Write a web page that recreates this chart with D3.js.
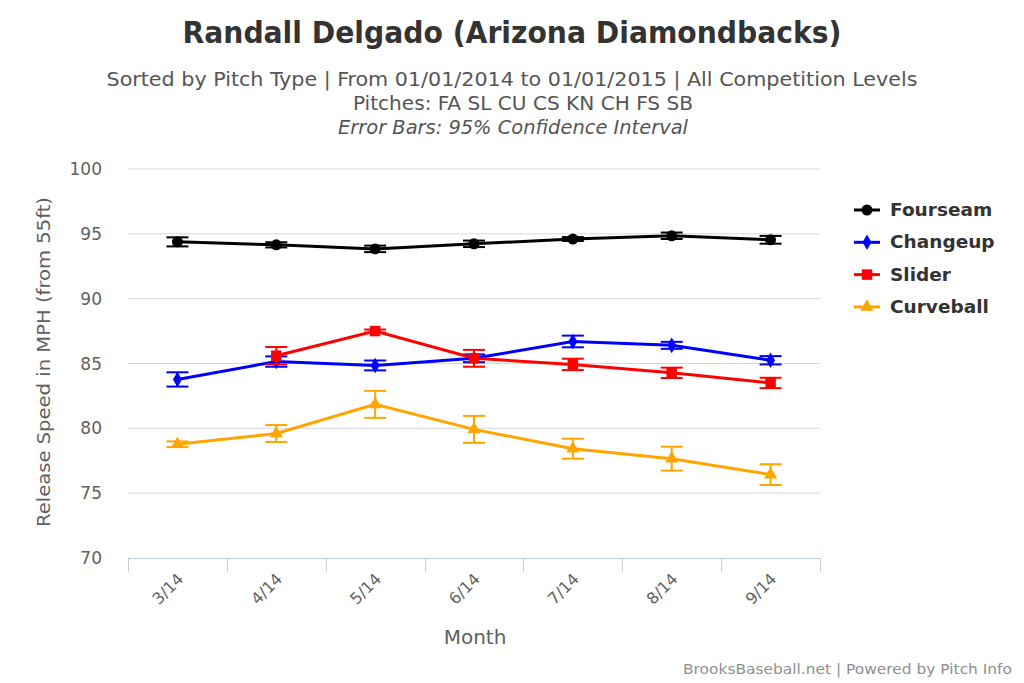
<!DOCTYPE html>
<html><head><meta charset="utf-8">
<script src="https://cdn.jsdelivr.net/npm/d3@7"></script>
<style>body{margin:0;background:#fff}svg{display:block}text{font-family:"DejaVu Sans",sans-serif}.cond{font-family:"DejaVu Sans Condensed","DejaVu Sans",sans-serif}</style>
</head><body><svg id="c" width="1024" height="683"></svg>
<script>
const months = ["3/14","4/14","5/14","6/14","7/14","8/14","9/14"];
const yTicks = [70,75,80,85,90,95,100];
const seriesNames = ["Fourseam","Changeup","Slider","Curveball"];
const seriesColors = ["#000000","#0000ff","#ff0000","#ffa500"];
const seriesSymbols = ["circle","diamond","square","triangle"];
const fourseam = [94.38,94.15,93.84,94.23,94.60,94.85,94.54];
const fourseamErr = [0.35,0.2,0.25,0.25,0.15,0.25,0.3];
const changeup = [83.77,85.15,84.85,85.4,86.7,86.4,85.25];
const changeupErr = [0.55,0.4,0.38,0.3,0.45,0.27,0.32];
const slider = [null,85.6,87.5,85.4,84.93,84.28,83.5];
const sliderErr = [null,0.67,0.12,0.65,0.44,0.4,0.4];
const curveball = [78.77,79.6,81.85,79.92,78.43,77.66,76.43];
const curveballErr = [0.22,0.65,1.04,1.04,0.77,0.92,0.8];
const allVals = [fourseam,changeup,slider,curveball];
const allErr = [fourseamErr,changeupErr,sliderErr,curveballErr];

const svg = d3.select("#c");
const L=128, R=820, T=169, B=558;
const x = d3.scaleBand().domain(months).range([L,R]);
const y = d3.scaleLinear().domain([70,100]).range([B,T]);

// titles
svg.append("text").attr("class","cond").attr("x",512).attr("y",43).attr("text-anchor","middle")
  .attr("font-size",31).attr("font-weight","bold").attr("fill","#333")
  .attr("textLength",659).attr("lengthAdjust","spacingAndGlyphs")
  .text("Randall Delgado (Arizona Diamondbacks)");
const sub = svg.append("g").attr("fill","#555").attr("font-size",20).attr("class","cond");
sub.append("text").attr("class","cond").attr("x",512).attr("y",86).attr("text-anchor","middle").attr("textLength",811).attr("lengthAdjust","spacingAndGlyphs").text("Sorted by Pitch Type | From 01/01/2014 to 01/01/2015 | All Competition Levels");
sub.append("text").attr("class","cond").attr("x",523).attr("y",110).attr("text-anchor","middle").attr("textLength",340).attr("lengthAdjust","spacingAndGlyphs").text("Pitches: FA SL CU CS KN CH FS SB");
sub.append("text").attr("class","cond").attr("x",513).attr("y",134).attr("text-anchor","middle").attr("font-style","italic").attr("textLength",350).attr("lengthAdjust","spacingAndGlyphs").text("Error Bars: 95% Confidence Interval");

// grid
svg.append("g").selectAll("line").data(yTicks.filter(d=>d>70)).join("line")
  .attr("x1",L).attr("x2",R).attr("y1",d=>y(d)).attr("y2",d=>y(d))
  .attr("stroke","#d8d8d8").attr("stroke-width",1);

// y labels
svg.append("g").selectAll("text").data(yTicks).join("text")
  .attr("x",102).attr("y",d=>y(d)+6).attr("text-anchor","end")
  .attr("font-size",17).attr("fill","#606060").text(d=>d);
svg.append("text").attr("transform","translate(50,362) rotate(-90)").attr("text-anchor","middle")
  .attr("font-size",18).attr("fill","#606060").attr("textLength",330).attr("lengthAdjust","spacingAndGlyphs").text("Release Speed in MPH (from 55ft)");

// x axis
const xa = svg.append("g");
xa.append("line").attr("x1",L).attr("x2",R).attr("y1",B+0.5).attr("y2",B+0.5).attr("stroke","#C0D0E0");
const bounds = months.map(m=>x(m)).concat([x(months[months.length-1])+x.bandwidth()]);
xa.selectAll("line.t").data(bounds).join("line").attr("class","t")
  .attr("x1",d=>Math.round(d)+0.5).attr("x2",d=>Math.round(d)+0.5).attr("y1",B).attr("y2",B+14).attr("stroke","#C0D0E0");
xa.selectAll("text").data(months).join("text")
  .attr("transform",d=>`translate(${x(d)+x.bandwidth()/2+7},${B+22}) rotate(-45)`)
  .attr("text-anchor","end").attr("font-size",16).attr("fill","#606060").text(d=>d);
svg.append("text").attr("x",475).attr("y",644).attr("text-anchor","middle").attr("font-size",20).attr("fill","#606060").text("Month");

// credits
svg.append("text").attr("x",1012).attr("y",674).attr("text-anchor","end").attr("font-size",14).attr("fill","#909090").attr("textLength",329).attr("lengthAdjust","spacingAndGlyphs").text("BrooksBaseball.net | Powered by Pitch Info");

const cx = m => x(m)+x.bandwidth()/2;
const symSize = {circle:95,diamond:70,square:110,triangle:75};
const line = d3.line().defined(d=>d.v!=null).x(d=>cx(d.m)).y(d=>y(d.v));

seriesNames.forEach((name,i)=>{
  const g = svg.append("g");
  const col = seriesColors[i];
  const pts = months.map((m,j)=>({m, v:allVals[i][j], e:allErr[i][j]})).filter(d=>d.v!=null);
  // error bars
  const eb = g.append("g").attr("stroke",col).attr("stroke-width",2);
  pts.forEach(d=>{
    const X=cx(d.m);
    eb.append("line").attr("x1",X).attr("x2",X).attr("y1",y(d.v-d.e)).attr("y2",y(d.v+d.e));
    eb.append("line").attr("x1",X-11).attr("x2",X+11).attr("y1",y(d.v-d.e)).attr("y2",y(d.v-d.e));
    eb.append("line").attr("x1",X-11).attr("x2",X+11).attr("y1",y(d.v+d.e)).attr("y2",y(d.v+d.e));
  });
  g.append("path").datum(pts).attr("d",line).attr("fill","none").attr("stroke",col).attr("stroke-width",3);
  const sym = d3.symbol().type({circle:d3.symbolCircle,diamond:d3.symbolDiamond,square:d3.symbolSquare,triangle:d3.symbolTriangle}[seriesSymbols[i]]).size(symSize[seriesSymbols[i]]);
  g.selectAll("path.m").data(pts).join("path").attr("class","m")
    .attr("transform",d=>`translate(${cx(d.m)},${y(d.v)})`).attr("d",sym).attr("fill",col);
  // legend
  const ly = 210 + i*32.3;
  const lg = svg.append("g");
  lg.append("line").attr("x1",854).attr("x2",880).attr("y1",ly).attr("y2",ly).attr("stroke",col).attr("stroke-width",3);
  lg.append("path").attr("transform",`translate(867,${ly})`).attr("d",sym).attr("fill",col);
  lg.append("text").attr("x",890).attr("y",ly+6).attr("font-size",18.5).attr("font-weight","bold").attr("fill","#333").text(name);
});
</script></body></html>
